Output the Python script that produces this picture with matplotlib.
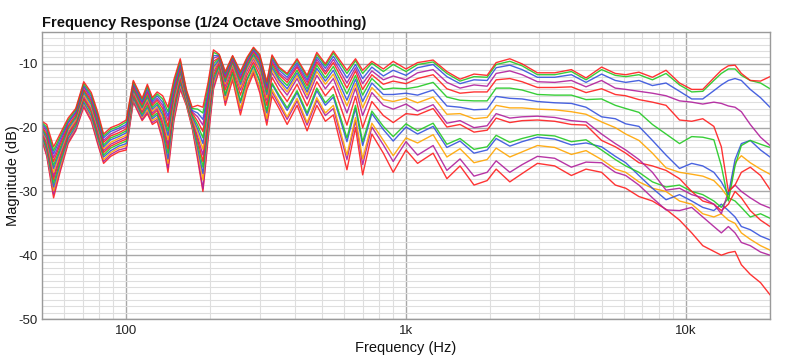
import matplotlib
matplotlib.use("Agg")
import matplotlib.pyplot as plt
from matplotlib.ticker import FixedLocator, NullFormatter

plt.rcParams['font.family'] = ['Liberation Sans', 'DejaVu Sans']
plt.rcParams['axes.unicode_minus'] = False

freq_hz = [50, 52, 55, 58, 62, 66, 70.5, 75, 79, 83, 88, 94, 100, 106, 114, 119, 124, 129, 135, 141,
           148, 156, 164, 172, 180, 188, 196, 205, 215, 226, 240, 256, 270, 285, 300, 318, 332, 352, 376, 408,
           443, 480, 515, 550, 615, 660, 700, 755, 830, 900, 1000, 1100, 1250, 1400, 1560, 1750, 1950, 2100, 2350, 2600,
           2950, 3400, 3900, 4400, 5000, 5600, 6100, 6800, 7600, 8500, 9500, 10500, 11500, 12600, 13400, 14200, 15000, 15800, 17000, 18500,
           20000]

c01 = [-19, -19.5, -23, -21, -18.5, -17, -12.8, -14.5, -17.5, -21, -20, -19.5, -18.8, -12.6, -15.4, -13.2, -15.3, -14.4, -15, -16.8,
       -12.5, -9.2, -14, -16.8, -16.5, -16.8, -13, -7.8, -8.5, -11.2, -8.7, -11.2, -9, -7.4, -8.5, -12.8, -8.6, -10.5, -11.5, -9.2,
       -11.8, -8.2, -10, -8, -11, -9.2, -11, -9.6, -10.8, -9.6, -10.8, -9.8, -9.4, -11.2, -12.4, -11.6, -11.8, -9.8, -9.2, -10,
       -11.4, -11.4, -10.9, -12.2, -10.5, -11.5, -11.7, -11.3, -12.1, -11, -13, -14, -14, -12.2, -11, -10.3, -10.2, -11.5, -12.6, -12.7,
       -12]
c02 = [-19.2, -19.9, -23.6, -21.4, -18.8, -17.2, -13.1, -14.8, -17.9, -21.3, -20.3, -19.8, -19.1, -12.8, -15.6, -13.5, -15.6, -14.7, -15.5, -17.5,
       -13, -9.5, -14.2, -17, -17.1, -17.7, -13.6, -8.2, -8.6, -11.4, -8.8, -11.4, -9.2, -7.5, -8.7, -13, -8.8, -10.7, -11.7, -9.4,
       -12.1, -8.5, -10.3, -8.3, -11.5, -9.5, -11.5, -9.9, -11.2, -10.1, -11.2, -10.1, -9.7, -11.5, -12.7, -12, -12.1, -10.1, -9.6, -10.3,
       -11.7, -11.7, -11.2, -12.5, -10.9, -11.8, -12, -11.7, -12.5, -11.5, -13.3, -14.4, -14.3, -12.6, -11.5, -10.8, -10.8, -11.8, -12.6, -13,
       -13.9]
c03 = [-19.4, -20.2, -24.1, -21.8, -19.1, -17.5, -13.4, -15.1, -18.2, -21.6, -20.6, -20.1, -19.5, -13.1, -15.9, -13.8, -15.9, -15, -16, -18.2,
       -13.4, -9.9, -14.4, -17.3, -17.7, -18.7, -14.3, -8.7, -8.7, -11.6, -9, -11.7, -9.4, -7.7, -9, -13.3, -9.1, -11, -12.1, -9.8,
       -12.5, -8.9, -10.7, -8.8, -12.2, -10.1, -12.3, -10.5, -11.9, -11, -11.8, -10.6, -10.1, -12, -13.1, -12.5, -12.6, -10.6, -10.2, -10.9,
       -12.1, -12.1, -11.7, -12.9, -11.6, -12.6, -12.9, -12.6, -13.4, -13, -14.3, -15.5, -15.5, -14.2, -13.3, -12.6, -12.3, -12.6, -14, -15.3,
       -16.8]
c04 = [-19.6, -20.6, -24.7, -22.3, -19.3, -17.7, -13.6, -15.5, -18.6, -22, -21, -20.4, -19.8, -13.3, -16.1, -14.2, -16.2, -15.4, -16.5, -18.9,
       -13.9, -10.2, -14.5, -17.5, -18.3, -19.6, -14.9, -9.1, -8.8, -11.9, -9.2, -12.1, -9.7, -7.9, -9.3, -13.7, -9.4, -11.4, -12.5, -10.2,
       -12.9, -9.3, -11.2, -9.3, -13, -10.6, -13.1, -11.1, -12.5, -11.9, -12.5, -11.4, -10.9, -12.9, -13.8, -13.3, -13.5, -11.5, -11.1, -11.7,
       -12.8, -12.9, -12.6, -13.6, -12.6, -13.8, -14, -14.3, -14.6, -15, -15.8, -16, -16.3, -16, -16.2, -16.6, -16.8, -17.5, -19.5, -21.5,
       -22.8]
c05 = [-19.9, -21, -25.3, -22.7, -19.7, -18, -14, -15.8, -19, -22.3, -21.3, -20.8, -20.2, -13.6, -16.4, -14.5, -16.5, -15.7, -17, -19.8,
       -14.4, -10.6, -14.7, -17.7, -19, -20.6, -15.6, -9.6, -9, -12.2, -9.4, -12.4, -9.9, -8.1, -9.6, -14, -9.8, -11.7, -12.9, -10.5,
       -13.4, -9.7, -11.6, -9.8, -13.8, -11.1, -14, -11.7, -13.2, -12.7, -13.1, -12.3, -11.7, -13.9, -14.6, -14.4, -14.4, -12.5, -12.3, -12.8,
       -13.7, -13.7, -13.6, -14.5, -13.9, -14.8, -15, -15.6, -16, -16.5, -18.8, -19, -18.6, -19.8, -23, -30, -29, -27, -26.2, -27.5,
       -29.7]
c06 = [-20.1, -21.3, -25.9, -23.2, -19.9, -18.3, -14.2, -16.1, -19.3, -22.7, -21.6, -21.1, -20.5, -13.8, -16.7, -14.9, -16.8, -16.1, -17.5, -20.5,
       -14.8, -10.9, -14.9, -18, -19.6, -21.6, -16.2, -10, -9.1, -12.5, -9.6, -12.8, -10.2, -8.4, -9.9, -14.4, -10.1, -12.1, -13.4, -11,
       -13.9, -10.2, -12.2, -10.4, -14.7, -11.8, -14.9, -12.3, -14, -13.8, -13.9, -13.6, -12.9, -15.2, -15.7, -15.8, -15.8, -13.8, -13.8, -14.1,
       -14.8, -14.9, -14.9, -15.6, -15.5, -16.5, -17, -17.6, -19.5, -21, -22.5, -21.4, -21.5, -21.9, -26, -31.5, -26, -22.8, -22, -22.6,
       -23.1]
c07 = [-20.3, -21.7, -26.4, -23.6, -20.2, -18.5, -14.5, -16.4, -19.7, -23, -21.9, -21.4, -20.8, -14.1, -16.9, -15.2, -17.1, -16.4, -18, -21.2,
       -15.3, -11.3, -15.1, -18.2, -20.2, -22.5, -16.9, -10.5, -9.3, -12.8, -9.8, -13.2, -10.5, -8.6, -10.3, -14.8, -10.5, -12.5, -13.9, -11.4,
       -14.4, -10.7, -12.7, -11, -15.7, -12.4, -15.9, -13, -14.8, -14.8, -14.6, -14.9, -14.1, -16.6, -16.8, -17.2, -17.1, -15.1, -15.4, -15.5,
       -15.9, -16.1, -16.2, -16.8, -18.3, -18.6, -19.4, -19.8, -22, -24.3, -26.4, -25.6, -26, -27, -28.5, -30.5, -25, -22.5, -22, -23.5,
       -24.6]
c08 = [-20.5, -22, -27, -24, -20.5, -18.8, -14.8, -16.8, -20, -23.3, -22.3, -21.7, -21.2, -14.3, -17.2, -15.5, -17.4, -16.7, -18.5, -21.9,
       -15.8, -11.6, -15.3, -18.4, -20.8, -23.4, -17.5, -10.9, -9.4, -13.1, -10.1, -13.7, -10.8, -8.9, -10.7, -15.3, -10.9, -12.8, -14.4, -11.8,
       -14.9, -11.2, -13.2, -11.6, -16.6, -13.1, -16.9, -13.7, -15.6, -15.9, -15.4, -16.1, -15.2, -17.9, -17.8, -18.6, -18.4, -16.5, -16.9, -16.9,
       -17.1, -17.2, -17.5, -17.9, -19.1, -20, -21, -22, -24, -26.3, -27, -27.3, -27.6, -28.3, -29.5, -31, -25.5, -24.4, -25.5, -26.5,
       -27.3]
c09 = [-20.7, -22.4, -27.6, -24.4, -20.8, -19, -15.1, -17.1, -20.4, -23.6, -22.6, -22, -21.5, -14.5, -17.4, -15.8, -17.7, -17, -19, -22.6,
       -16.2, -11.9, -15.4, -18.6, -21.4, -24.3, -18.1, -11.3, -9.6, -13.5, -10.3, -14.1, -11.2, -9.2, -11.1, -15.7, -11.4, -13.3, -14.9, -12.3,
       -15.5, -11.8, -13.9, -12.3, -17.7, -13.8, -18.1, -14.5, -16.5, -17.1, -16.3, -17.4, -16.4, -19.3, -18.9, -20, -19.7, -17.8, -18.5, -18.3,
       -18.2, -18.4, -18.9, -19.1, -21, -22.5, -23.5, -25, -27, -29.8, -29.5, -30.5, -31, -32, -33.5, -30, -29, -30, -31, -32,
       -32.6]
c10 = [-20.9, -22.7, -28.1, -24.8, -21.1, -19.2, -15.4, -17.4, -20.7, -23.9, -22.9, -22.3, -21.8, -14.8, -17.6, -16.1, -18, -17.3, -19.5, -23.3,
       -16.7, -12.3, -15.6, -18.9, -21.9, -25.3, -18.8, -11.8, -9.9, -14.1, -10.8, -14.9, -11.8, -9.7, -11.8, -16.5, -12.1, -14.1, -15.9, -13.2,
       -16.6, -12.8, -15, -13.5, -19.6, -15.1, -20, -15.9, -18.1, -19.2, -17.8, -18, -17, -19.9, -19.5, -20.7, -20.4, -18.5, -19.2, -18.9,
       -18.8, -19, -19.5, -19.6, -22, -23, -24, -25.5, -26, -26.7, -28, -30, -31.5, -32, -33, -32, -30, -31, -33, -34.5,
       -35.5]
c11 = [-21.1, -23.1, -28.7, -25.3, -21.3, -19.5, -15.6, -17.7, -21.1, -24.3, -23.2, -22.6, -22.1, -15, -17.9, -16.5, -18.3, -17.7, -20, -24,
       -17.1, -12.6, -15.8, -19.1, -22.5, -26.2, -19.4, -12.2, -10.2, -14.8, -11.3, -15.8, -12.4, -10.2, -12.6, -17.4, -13, -14.9, -16.9, -14.2,
       -17.7, -13.8, -16.1, -14.8, -21.6, -16.5, -22.2, -17.4, -19.8, -21.4, -19.4, -20.5, -19.3, -22.6, -21.7, -23.4, -23, -21.2, -22.3, -21.7,
       -21.1, -21.3, -22.2, -21.9, -23.5, -25, -26, -27, -28.5, -29.3, -29, -30, -30.5, -31.5, -32.5, -31, -31.5, -32.5, -34, -33.5,
       -34.2]
c12 = [-21.4, -23.5, -29.3, -25.7, -21.7, -19.8, -16, -18.1, -21.5, -24.6, -23.6, -22.9, -22.5, -15.3, -18.2, -16.8, -18.6, -18, -20.5, -24.9,
       -17.6, -13, -16, -19.3, -23.2, -27.2, -20.1, -12.7, -10.3, -15, -11.4, -16.1, -12.6, -10.4, -12.8, -17.7, -13.2, -15.2, -17.3, -14.5,
       -18.1, -14.2, -16.5, -15.2, -22.2, -17, -22.8, -17.8, -20.3, -22.1, -19.9, -21, -19.8, -23.1, -22.1, -24, -23.5, -21.7, -22.9, -22.2,
       -21.5, -21.8, -22.7, -22.4, -23, -24.5, -25.5, -27.5, -29.5, -31.3, -30.5, -31.5, -32.5, -33, -32, -33, -34, -35.5, -36, -37,
       -37.6]
c13 = [-21.6, -23.8, -29.9, -26.2, -21.9, -20, -16.2, -18.4, -21.8, -25, -23.9, -23.2, -22.8, -15.5, -18.4, -17.2, -18.9, -18.4, -21, -25.6,
       -18.1, -13.3, -16.2, -19.6, -23.8, -28.2, -20.7, -13.1, -10.6, -15.7, -11.9, -17, -13.3, -10.9, -13.6, -18.6, -14, -16, -18.3, -15.4,
       -19.2, -15.3, -17.7, -16.5, -24.3, -18.4, -24.9, -19.3, -22, -24.4, -21.6, -22.4, -21.1, -24.6, -23.3, -25.5, -25, -23.2, -24.6, -23.8,
       -22.8, -23.1, -24.2, -23.6, -25, -26.5, -27, -28.5, -29.5, -30, -31.5, -32, -33.5, -34, -33.5, -34.5, -35, -36.5, -37.5, -38.5,
       -39.2]
c14 = [-21.8, -24.2, -30.4, -26.6, -22.2, -20.3, -16.5, -18.7, -22.2, -25.3, -24.2, -23.5, -23.2, -15.8, -18.7, -17.5, -19.2, -18.7, -21.5, -26.3,
       -18.6, -13.7, -16.3, -19.8, -24.4, -29.6, -21.4, -13.6, -10.8, -16, -12.1, -17.3, -13.5, -11.1, -13.9, -18.9, -14.4, -16.4, -18.7, -15.8,
       -19.6, -15.7, -18.1, -17, -25, -18.9, -25.8, -19.9, -22.7, -25.3, -22.2, -24.3, -22.8, -26.7, -24.9, -27.6, -27, -25.2, -27, -25.8,
       -24.5, -24.8, -26.2, -25.4, -25.5, -27, -27.5, -29, -31, -32.9, -33, -32.5, -34, -35.5, -36.5, -35.5, -36.5, -38, -38.5, -39.5,
       -40]
c15 = [-22, -24.5, -31, -27, -22.5, -20.5, -16.8, -19, -22.5, -25.6, -24.5, -23.8, -23.5, -16, -18.9, -17.8, -19.5, -19, -22, -27,
       -19, -14, -16.5, -20, -25, -30, -22, -14, -11, -16.5, -12.5, -18, -14, -11.5, -14.5, -19.6, -15, -17, -19.5, -16.5,
       -20.5, -16.5, -19, -18, -26.6, -20, -27.4, -21, -24, -27, -23.5, -25.6, -24, -28, -26, -29, -28.3, -26.5, -28.5, -27.2,
       -25.6, -26, -27.5, -26.5, -27, -29, -29.5, -30.8, -31.5, -32.8, -34.5, -36.5, -38.5, -39.4, -40, -39.6, -39.4, -41.5, -43, -44.3,
       -46.2]

curves = [c01, c02, c03, c04, c05, c06, c07, c08, c09, c10, c11, c12, c13, c14, c15]
RED, GREEN, BLUE, PURPLE, ORANGE = '#ff1e1e', '#22c922', '#3552dd', '#b01f9c', '#ffa500'
curve_colors = [RED, GREEN, BLUE, PURPLE, RED, GREEN, BLUE, ORANGE, PURPLE, RED, GREEN, BLUE, ORANGE, PURPLE, RED]

fig = plt.figure(figsize=(8.0, 3.55), dpi=100)
ax = fig.add_axes([0.0525, 0.1014, 0.91, 0.8085])

for vals, col in reversed(list(zip(curves, curve_colors))):
    ax.plot(freq_hz, vals, color=col, lw=1.0, alpha=0.9, solid_joinstyle='round')

ax.set_xscale('log')
ax.set_xlim(50, 20000)
ax.set_ylim(-50, -5)

ax.xaxis.set_major_locator(FixedLocator([100, 1000, 10000]))
ax.set_xticklabels(['100', '1k', '10k'])
minor_x = [m * 10 ** e for e in (1, 2, 3, 4) for m in range(2, 10) if 50 <= m * 10 ** e <= 20000]
ax.xaxis.set_minor_locator(FixedLocator(minor_x))
ax.xaxis.set_minor_formatter(NullFormatter())
ax.yaxis.set_major_locator(FixedLocator([-50, -40, -30, -20, -10]))
ax.yaxis.set_minor_locator(FixedLocator([v for v in range(-50, -4) if v % 10 != 0]))

ax.grid(which='major', color='#a8a8a8', lw=1.0, zorder=0)
ax.grid(which='minor', color='#dedede', lw=0.8, zorder=0)
ax.set_axisbelow(True)
ax.tick_params(which='both', length=0, labelsize=9.5, colors='#222222')
ax.tick_params(axis='y', pad=3)
ax.tick_params(axis='x', pad=4)
for s in ax.spines.values():
    s.set_color('#9a9a9a')
    s.set_linewidth(1.0)

ax.set_xlabel('Frequency (Hz)', fontsize=10.5, color='#111111', labelpad=3)
ax.set_ylabel('Magnitude (dB)', fontsize=10.5, color='#111111', va='center')
ax.yaxis.set_label_coords((13 - 42) / 728.0, 0.5)

fig.text(0.0525, 1 - 23.5 / 355, 'Frequency Response (1/24 Octave Smoothing)', fontsize=10.5,
         fontweight='bold', ha='left', va='center', color='#111111')

fig.savefig('out.png', dpi=100, facecolor='white')
